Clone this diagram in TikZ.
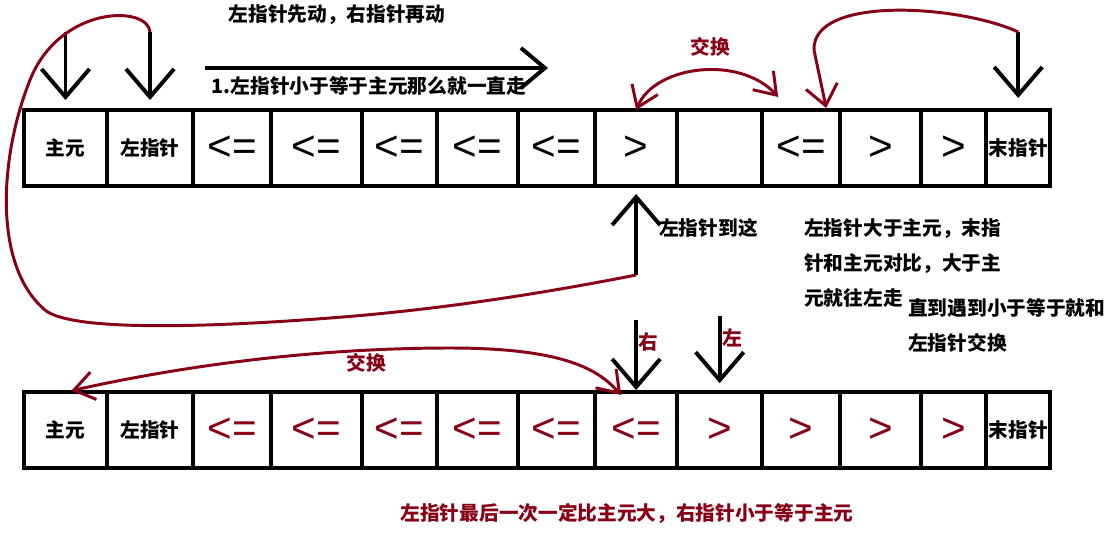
\documentclass[tikz,border=0pt]{standalone}
\usepackage{fontspec}
\newfontfamily\cjk{Noto Sans CJK SC}
\newfontfamily\symf{Liberation Sans}
\usetikzlibrary{positioning,arrows.meta,calc}
\definecolor{paintred}{RGB}{136,0,21}
\tikzset{
  elem/.style={rectangle, draw=black, line width=2.8pt, minimum height=1.9cm, inner sep=0pt, outer sep=0pt, text centered, font=\cjk\bfseries\fontsize{14}{16}\selectfont},
  sym/.style={elem, font=\symf\fontsize{30}{30}\selectfont},
  rsym/.style={sym, text=paintred},
  txt/.style={font=\cjk\bfseries\fontsize{14}{16}\selectfont, inner sep=0pt},
  rtxt/.style={txt, text=paintred},
  para/.style={txt, align=left, anchor=west, font=\cjk\bfseries\fontsize{14}{24.6}\selectfont},
  ptr/.style={-{Straight Barb[length=7mm,width=12mm]}, line width=2.8pt},
  mv/.style={draw=paintred, line width=2.1pt},
  swp/.style={mv, {Straight Barb[length=5mm,width=7mm]}-{Straight Barb[length=5mm,width=7mm]}},
  node distance=0pt
}
\begin{document}
\begin{tikzpicture}[x=0.025cm, y=-0.025cm]
	\useasboundingbox (0,0) rectangle (1110,548);
	% top row
	\node[elem, minimum width=2.075cm] (t1) at (65.5,148) {主元};
	\node[elem, minimum width=2.15cm, right=of t1] (t2) {左指针};
	\node[sym, minimum width=1.95cm, right=of t2] (t3) {<=};
	\node[sym, minimum width=2.275cm, right=of t3] (t4) {<=};
	\node[sym, minimum width=1.875cm, right=of t4] (t5) {<=};
	\node[sym, minimum width=2.025cm, right=of t5] (t6) {<=};
	\node[sym, minimum width=1.925cm, right=of t6] (t7) {<=};
	\node[sym, minimum width=2.05cm, right=of t7] (t8) {>};
	\node[sym, minimum width=2.125cm, right=of t8] (t9) {};
	\node[sym, minimum width=1.95cm, right=of t9] (t10) {<=};
	\node[sym, minimum width=2.025cm, right=of t10] (t11) {>};
	\node[sym, minimum width=1.625cm, right=of t11] (t12) {>};
	\node[elem, minimum width=1.6cm, right=of t12] (t13) {末指针};
	
	% bottom row
	\node[elem, minimum width=2.075cm] (b1) at (65.5,430) {主元};
	\node[elem, minimum width=2.15cm, right=of b1] (b2) {左指针};
	\node[rsym, minimum width=1.95cm, right=of b2] (b3) {<=};
	\node[rsym, minimum width=2.275cm, right=of b3] (b4) {<=};
	\node[rsym, minimum width=1.875cm, right=of b4] (b5) {<=};
	\node[rsym, minimum width=2.025cm, right=of b5] (b6) {<=};
	\node[rsym, minimum width=1.925cm, right=of b6] (b7) {<=};
	\node[rsym, minimum width=2.05cm, right=of b7] (b8) {<=};
	\node[rsym, minimum width=2.125cm, right=of b8] (b9) {>};
	\node[rsym, minimum width=1.95cm, right=of b9] (b10) {>};
	\node[rsym, minimum width=2.025cm, right=of b10] (b11) {>};
	\node[rsym, minimum width=1.625cm, right=of b11] (b12) {>};
	\node[elem, minimum width=1.6cm, right=of b12] (b13) {末指针};
	
	% pointers
	\coordinate (p1) at (t1.north |- 0,32);
	\coordinate (p2) at (t2.north |- 0,32);
	\coordinate (p13) at (t13.north |- 0,32);
	\coordinate (h) at (t8.south |- 0,275);
	\coordinate (q8) at (b8.north |- 0,320);
	\coordinate (q9) at (b9.north |- 0,316);
	\coordinate (r0) at (205,68);
	\coordinate (r1) at (548,68);
	\draw[ptr, shorten >=0.25cm] (p1) -- (t1.north);
	\draw[ptr, shorten >=0.25cm] (p2) -- (t2.north);
	\draw[ptr, shorten >=0.3cm] (p13) -- (t13.north);
	\draw[ptr, shorten >=0.2cm] (h) -- (t8.south);
	\draw[ptr, shorten >=0.05cm] (q8) -- (b8.north);
	\draw[ptr, shorten >=0.22cm] (q9) -- (b9.north);
	\draw[ptr, -{Straight Barb[length=6mm,width=10mm]}] (r0) -- (r1);
	
	% texts
	\node[txt] (s1) at (337,15) {左指针先动，右指针再动};
	\node[txt] (s2) at (369,86) {1.左指针小于等于主元那么就一直走};
	\node[txt, anchor=west] (s3) at (659,228) {左指针到这};
	\node[para] (s4) at (804,263) {左指针大于主元，末指\\针和主元对比，大于主\\元就往左走};
	\node[para] (s5) at (908,325.5) {直到遇到小于等于就和\\左指针交换};
	\node[rtxt] (s6) at (627,513) {左指针最后一次一定比主元大，右指针小于等于主元};
	\node[rtxt] (x1) at (710,47) {交换};
	\node[rtxt] (x2) at (366,363) {交换};
	\node[rtxt] (lr) at (648,342) {右};
	\node[rtxt] (ll) at (732,338) {左};
	
	% moves and swaps
	\draw[mv] (p2) .. controls (148,5) and (60,5) .. (30,80)
		.. controls (0,155) and (-8,265) .. (45,310)
		.. controls (70,331) and (200,328) .. (330,318)
		.. controls (450,309) and (560,290) .. (h);
	\draw[swp] (t8.north) .. controls (655,65) and (740,55) .. ($(t10.north)+(-23,-13)$);
	\draw[mv, -{Straight Barb[length=5mm,width=8mm]}] (p13) .. controls (960,5) and (812,-5) .. (814,50) -- ($(t10.north)+(25,-2)$);
	\draw[swp, shorten <=0.15cm] (b1.north) .. controls (200,362) and (330,348) .. (450,348)
		.. controls (570,348) and (600,372) .. ($(b8.north)+(-15,3)$);
\end{tikzpicture}
\end{document}
